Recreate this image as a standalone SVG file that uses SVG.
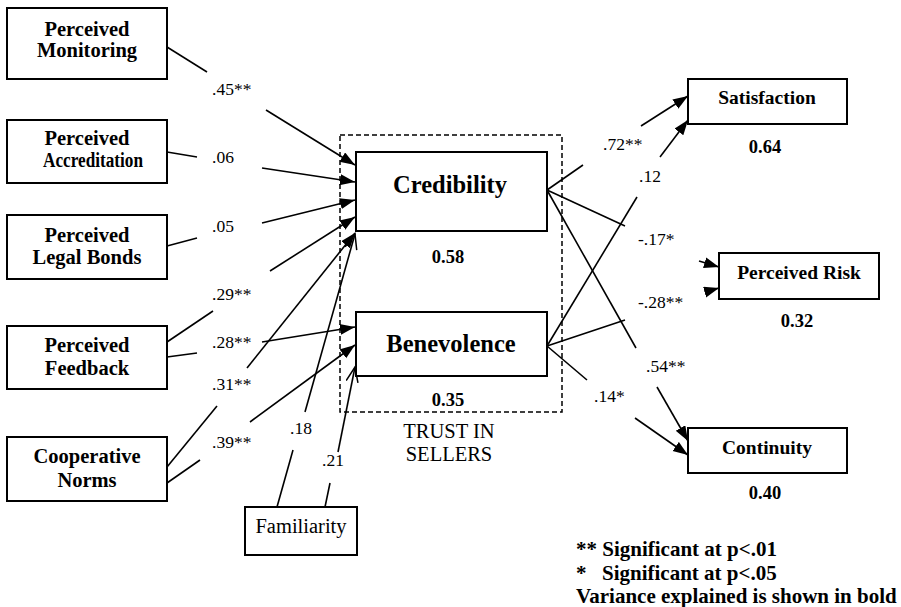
<svg xmlns="http://www.w3.org/2000/svg" width="901" height="607" viewBox="0 0 901 607">
<style>
.box{fill:#fff;stroke:#000;stroke-width:2}
.t{font-family:"Liberation Serif","Times New Roman",serif;fill:#000}
.nb{font-weight:bold;font-size:20.5px;text-anchor:middle}
.rb{font-weight:bold;font-size:19.5px;text-anchor:middle}
.big{font-weight:bold;font-size:24.5px;text-anchor:middle}
.var{font-weight:bold;font-size:18.5px;text-anchor:middle}
.reg{font-size:20.5px;text-anchor:middle}
.coef{font-size:17.5px}
.leg{font-weight:bold;font-size:21px}
.ln{stroke:#000;stroke-width:1.6;fill:none}
.ah{marker-end:url(#ah)}
.oh{marker-end:url(#oh)}
.dash{fill:none;stroke:#000;stroke-width:1.5;stroke-dasharray:5,3}
</style>
<defs>
<marker id="ah" markerUnits="userSpaceOnUse" markerWidth="16" markerHeight="12" refX="15" refY="5.5" orient="auto">
<path d="M0,0 L15,5.5 L0,11 z" fill="#000"/>
</marker>
<marker id="oh" markerUnits="userSpaceOnUse" markerWidth="18" markerHeight="14" refX="16" refY="6.5" orient="auto">
<path d="M1,0.5 L16,6.5 L1,12.5" fill="none" stroke="#000" stroke-width="1.5"/>
</marker>
</defs>

<rect id="trust-group" class="dash" x="340" y="135" width="222" height="277"/>

<g id="connectors">
<g id="c-mon-cred"><line class="ln" x1="167" y1="47" x2="207" y2="72"/><line class="ln ah" x1="266" y1="110" x2="355" y2="165"/></g>
<g id="c-acc-cred"><line class="ln" x1="167" y1="152" x2="197" y2="157"/><line class="ln ah" x1="262" y1="168" x2="355" y2="182"/></g>
<g id="c-leg-cred"><line class="ln" x1="167" y1="246" x2="197" y2="238"/><line class="ln ah" x1="262" y1="223" x2="355" y2="200"/></g>
<g id="c-fb-cred"><line class="ln" x1="167" y1="342" x2="213" y2="311"/><line class="ln ah" x1="270" y1="271" x2="355" y2="217"/></g>
<g id="c-fb-ben"><line class="ln" x1="167" y1="357" x2="197" y2="353"/><line class="ln ah" x1="262" y1="342" x2="355" y2="327"/></g>
<g id="c-coop-cred"><line class="ln" x1="167" y1="467" x2="217" y2="406"/><line class="ln ah" x1="247" y1="368" x2="355" y2="233"/></g>
<g id="c-coop-ben"><line class="ln" x1="167" y1="483" x2="200" y2="460"/><line class="ln ah" x1="250" y1="422" x2="355" y2="345"/></g>
<g id="c-fam-cred"><line class="ln" x1="277" y1="507" x2="293" y2="450"/><line class="ln oh" x1="305" y1="412" x2="355" y2="234"/></g>
<g id="c-fam-ben"><line class="ln" x1="325" y1="507" x2="330" y2="483"/><line class="ln oh" x1="338" y1="452" x2="355" y2="367"/></g>
<g id="c-cred-sat"><line class="ln" x1="547" y1="190" x2="583" y2="165"/><line class="ln ah" x1="641" y1="126" x2="688" y2="96"/></g>
<g id="c-ben-sat"><line class="ln" x1="547" y1="346" x2="637" y2="197"/><line class="ln ah" x1="660" y1="157" x2="688" y2="120"/></g>
<g id="c-cred-risk"><line class="ln" x1="547" y1="190" x2="625" y2="226"/><line class="ln ah" x1="699" y1="261" x2="719" y2="267"/></g>
<g id="c-ben-risk"><line class="ln" x1="547" y1="346" x2="625" y2="320"/><line class="ln ah" x1="705" y1="292" x2="719" y2="288"/></g>
<g id="c-cred-cont"><line class="ln" x1="547" y1="190" x2="636" y2="348"/><line class="ln ah" x1="657" y1="387" x2="688" y2="441"/></g>
<g id="c-ben-cont"><line class="ln" x1="547" y1="346" x2="587" y2="380"/><line class="ln ah" x1="635" y1="418" x2="688" y2="455"/></g>
<g id="coef-labels" class="t coef">
<text x="212" y="95">.45**</text>
<text x="212" y="163">.06</text>
<text x="212" y="232">.05</text>
<text x="212" y="300">.29**</text>
<text x="212" y="348">.28**</text>
<text x="212" y="390">.31**</text>
<text x="212" y="448">.39**</text>
<text x="290" y="434">.18</text>
<text x="322" y="466">.21</text>
<text x="603" y="150">.72**</text>
<text x="639" y="182">.12</text>
<text x="638" y="245">-.17*</text>
<text x="638" y="308">-.28**</text>
<text x="646" y="372">.54**</text>
<text x="594" y="402">.14*</text>
</g>
</g>

<g id="n-monitoring"><rect class="box" x="7" y="8" width="160" height="71"/><text class="t nb" x="87" y="36">Perceived</text><text class="t nb" x="87" y="57">Monitoring</text></g>
<g id="n-accreditation"><rect class="box" x="7" y="120" width="160" height="63"/><text class="t nb" x="87" y="145">Perceived</text><text class="t nb" x="93" y="167" textLength="100" lengthAdjust="spacingAndGlyphs">Accreditation</text></g>
<g id="n-legal"><rect class="box" x="7" y="215" width="160" height="64"/><text class="t nb" x="87" y="242">Perceived</text><text class="t nb" x="87" y="264">Legal Bonds</text></g>
<g id="n-feedback"><rect class="box" x="7" y="326" width="160" height="63"/><text class="t nb" x="87" y="352">Perceived</text><text class="t nb" x="87" y="375">Feedback</text></g>
<g id="n-coop"><rect class="box" x="7" y="437" width="160" height="64"/><text class="t nb" x="87" y="463">Cooperative</text><text class="t nb" x="87" y="487">Norms</text></g>
<g id="n-familiarity"><rect class="box" x="245" y="507" width="112" height="48"/><text class="t reg" x="301" y="533">Familiarity</text></g>
<g id="n-credibility"><rect class="box" x="356" y="152" width="191" height="79"/><text class="t big" x="450" y="193">Credibility</text><text class="t var" x="448" y="263">0.58</text></g>
<g id="n-benevolence"><rect class="box" x="356" y="312" width="191" height="64"/><text class="t big" x="451" y="352">Benevolence</text><text class="t var" x="448" y="406">0.35</text></g>
<g id="trust-label" class="t reg"><text x="449" y="438">TRUST IN</text><text x="449" y="461">SELLERS</text></g>
<g id="n-satisfaction"><rect class="box" x="688" y="79" width="159" height="45"/><text class="t rb" x="767" y="104">Satisfaction</text><text class="t var" x="765" y="153">0.64</text></g>
<g id="n-risk"><rect class="box" x="719" y="253" width="160" height="46"/><text class="t rb" x="799" y="279">Perceived Risk</text><text class="t var" x="797" y="327">0.32</text></g>
<g id="n-continuity"><rect class="box" x="688" y="428" width="159" height="45"/><text class="t rb" x="767" y="454">Continuity</text><text class="t var" x="765" y="499">0.40</text></g>

<g id="legend" class="t leg">
<text x="576" y="556">** Significant at p&lt;.01</text>
<text x="576" y="580">*<tspan x="602">Significant at p&lt;.05</tspan></text>
<text x="576" y="603">Variance explained is shown in bold</text>
</g>
</svg>
